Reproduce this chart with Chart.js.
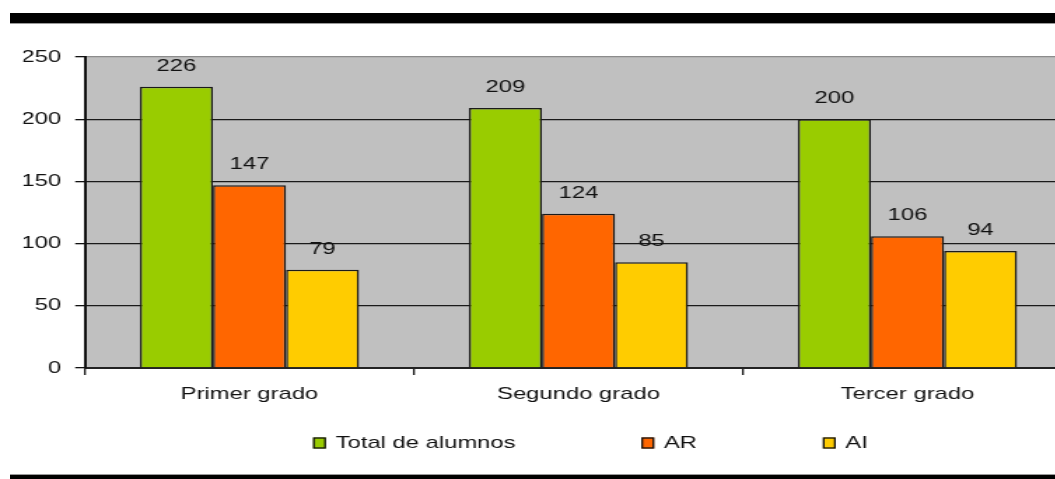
<!DOCTYPE html>
<html>
<head>
<meta charset="utf-8">
<title>Alumnos por grado</title>
<script src="https://cdn.jsdelivr.net/npm/chart.js@4.4.1/dist/chart.umd.min.js"></script>
<style>
  html, body { margin: 0; padding: 0; background: #fff; overflow: hidden; }
  #frame { position: relative; width: 1055px; height: 479px; overflow: hidden; }
  .rule { position: absolute; left: 10px; right: 0; background: #000; }
  #ruleTop { top: 13px; height: 10px; border-bottom: 1px solid #9a9a9a; }
  #ruleBottom { top: 474px; height: 5px; border-top: 1px solid #9a9a9a; }
  /* the chart is laid out narrow and widened horizontally */
  #wrap { position: absolute; left: 0; top: 0; width: 780px; height: 479px; transform: scaleX(1.4); transform-origin: 0 0; }
</style>
</head>
<body>
<div id="frame">
  <div id="wrap"><canvas id="chart" width="780" height="479"></canvas></div>
  <div class="rule" id="ruleTop"></div>
  <div class="rule" id="ruleBottom"></div>
</div>
<script>
const categories = ['Primer grado', 'Segundo grado', 'Tercer grado'];
const totalAlumnos = [226, 209, 200];
const ar = [147, 124, 106];
const ai = [79, 85, 94];
const yTicks = [0, 50, 100, 150, 200, 250];

const FAMILY = "'Liberation Sans', Arial, sans-serif";
const FONT_SIZE = 17;

// gray fill behind the plot
const plotBackground = {
  id: 'plotBackground',
  beforeDraw(chart) {
    const { ctx, chartArea: a } = chart;
    ctx.save();
    ctx.fillStyle = '#c0c0c0';
    ctx.fillRect(a.left, a.top, a.right - a.left, a.bottom - a.top);
    ctx.restore();
  }
};

// number above each bar
const valueLabels = {
  id: 'valueLabels',
  afterDatasetsDraw(chart) {
    const ctx = chart.ctx;
    ctx.save();
    ctx.font = FONT_SIZE + 'px ' + FAMILY;
    ctx.fillStyle = '#111';
    ctx.textAlign = 'center';
    ctx.textBaseline = 'alphabetic';
    chart.data.datasets.forEach((ds, i) => {
      chart.getDatasetMeta(i).data.forEach((bar, j) => {
        ctx.fillText(String(ds.data[j]), bar.x, bar.y - 16);
      });
    });
    ctx.restore();
  }
};

// spread-out legend row under the axis
const boxLegend = {
  id: 'boxLegend',
  afterDraw(chart) {
    const ctx = chart.ctx;
    let x = chart.chartArea.left + 163;
    const y = 443;
    ctx.save();
    ctx.font = FONT_SIZE + 'px ' + FAMILY;
    ctx.textAlign = 'left';
    ctx.textBaseline = 'middle';
    chart.data.datasets.forEach(ds => {
      ctx.fillStyle = ds.backgroundColor;
      ctx.fillRect(x, y - 5.5, 9, 11);
      ctx.strokeStyle = '#111';
      ctx.lineWidth = 1.3;
      ctx.strokeRect(x + 0.5, y - 5, 8, 10);
      ctx.fillStyle = '#111';
      ctx.fillText(ds.label, x + 16, y);
      x += 16 + ctx.measureText(ds.label).width + 90;
    });
    ctx.restore();
  }
};

const tickFont = { family: FAMILY, size: FONT_SIZE };

new Chart(document.getElementById('chart'), {
  type: 'bar',
  data: {
    labels: categories,
    datasets: [
      { label: 'Total de alumnos', data: totalAlumnos, backgroundColor: '#99cc00' },
      { label: 'AR', data: ar, backgroundColor: '#ff6600' },
      { label: 'AI', data: ai, backgroundColor: '#ffcc00' }
    ]
  },
  options: {
    responsive: false,
    animation: false,
    devicePixelRatio: 1,
    layout: { padding: { top: 57, left: 16.7, right: 14.3, bottom: 0 } },
    datasets: {
      bar: {
        borderColor: '#1a1a1a',
        borderWidth: 1.5,
        barPercentage: 1,
        categoryPercentage: 0.666
      }
    },
    plugins: {
      legend: { display: false },
      tooltip: { enabled: false }
    },
    scales: {
      x: {
        offset: true,
        grid: { display: true, offset: true, drawOnChartArea: false, drawTicks: true, tickLength: 7, color: '#111', lineWidth: 1.3 },
        border: { display: true, color: '#222', width: 2 },
        ticks: { color: '#111', font: tickFont, padding: 9, maxRotation: 0, autoSkip: false },
        afterFit(scale) { scale.height = 111; }
      },
      y: {
        min: 0,
        max: 250,
        afterBuildTicks(scale) { scale.ticks = yTicks.map(v => ({ value: v })); },
        grid: {
          color: c => (c.tick && c.tick.value === 250 ? '#8c8c8c' : '#1a1a1a'),
          tickColor: '#111',
          tickLength: 7,
          lineWidth: 1.3
        },
        border: { display: true, color: '#111', width: 2 },
        ticks: { color: '#111', font: tickFont, padding: 10 },
        afterFit(scale) { scale.width = 44; }
      }
    }
  },
  plugins: [plotBackground, valueLabels, boxLegend]
});
</script>
</body>
</html>
